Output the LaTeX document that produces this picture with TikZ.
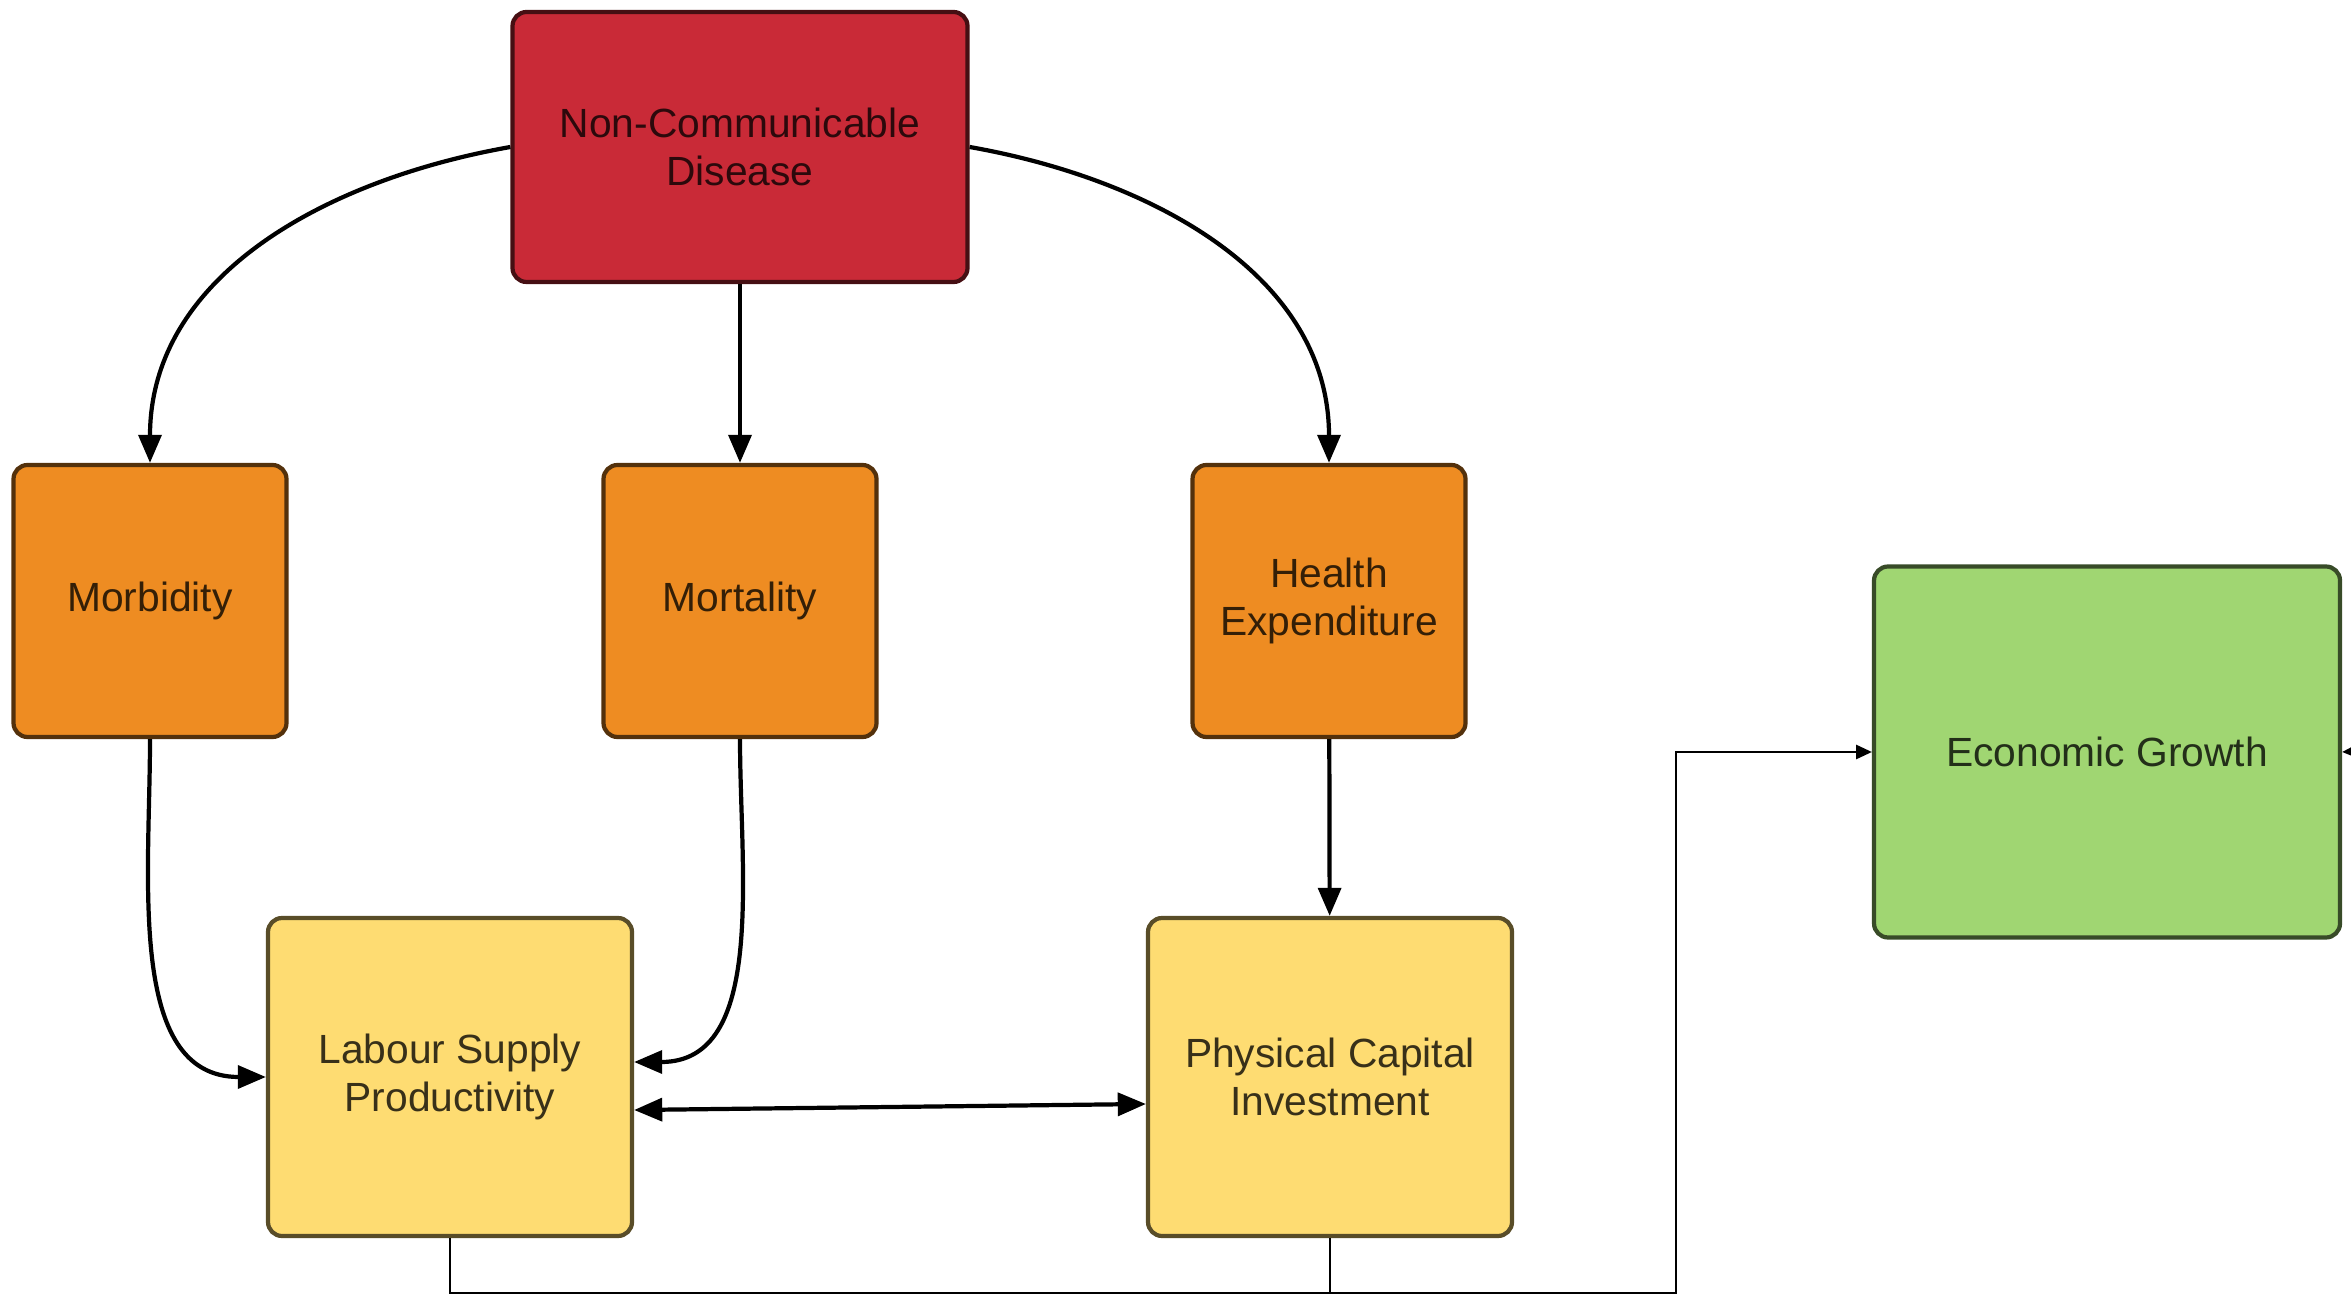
\documentclass[tikz,border=0pt]{standalone}
\usepackage{fontspec}
\setmainfont{Liberation Sans}
\usetikzlibrary{arrows.meta}

\definecolor{ncdred}{HTML}{C92A37}
\definecolor{effectorange}{HTML}{EE8C22}
\definecolor{channelyellow}{HTML}{FEDC72}
\definecolor{growthgreen}{HTML}{A0D672}

\begin{document}
\begin{tikzpicture}[->,>={Triangle[length=8pt,width=6.5pt]},line width=1.2pt,
        box/.style={draw=#1!35!black,fill=#1,text=#1!22!black,line width=1.2pt,
          rounded corners=4pt,align=center,inner sep=0pt,
          font=\fontsize{11.6}{13.6}\selectfont},
        effect/.style={box=effectorange,minimum width=2.73cm,minimum height=2.72cm},
        channel/.style={box=channelyellow,minimum width=3.64cm,minimum height=3.18cm},
        link/.style={line width=0.7pt,>={Triangle[length=4.5pt,width=4pt]}}]

  \clip (0,0) rectangle (23.51,12.99);

  \node[box=ncdred,minimum width=4.55cm,minimum height=2.70cm] (ncd) at (7.40,11.52) {Non-Communicable\\Disease};
  \node[effect] (morb) at (1.50,6.98) {Morbidity};
  \node[effect] (mort) at (7.40,6.98) {Mortality};
  \node[effect] (hexp) at (13.29,6.98) {Health\\Expenditure};
  \node[channel] (lab) at (4.50,2.22) {Labour Supply\\Productivity};
  \node[channel] (phys) at (13.30,2.22) {Physical Capital\\Investment};
  \node[box=growthgreen,minimum width=4.66cm,minimum height=3.71cm] (eg) at (21.07,5.47) {Economic Growth};

  \coordinate (jn) at (16.76,0.06);
  \coordinate (egin) at (24.2,5.51);

  \path (ncd.west) edge[out=190,in=90]  (morb.north)
        (ncd) edge (mort)
        (ncd.east) edge[out=-10,in=90]  (hexp.north)
        (morb.south) edge[out=-90,in=180] (lab.west)
        (mort.south) edge[out=-90,in=0] ([yshift=0.15cm]lab.east)
        ([yshift=-0.33cm]lab.east) edge[<->] ([yshift=-0.27cm]phys.west)
        (hexp) edge (phys);

  \draw[link,-] (phys.south) -- (phys.south |- jn);
  \draw[link] (lab.south) |- (jn) |- (eg.west);
  \draw[link] (egin) -- (eg.east);

\end{tikzpicture}
\end{document}
